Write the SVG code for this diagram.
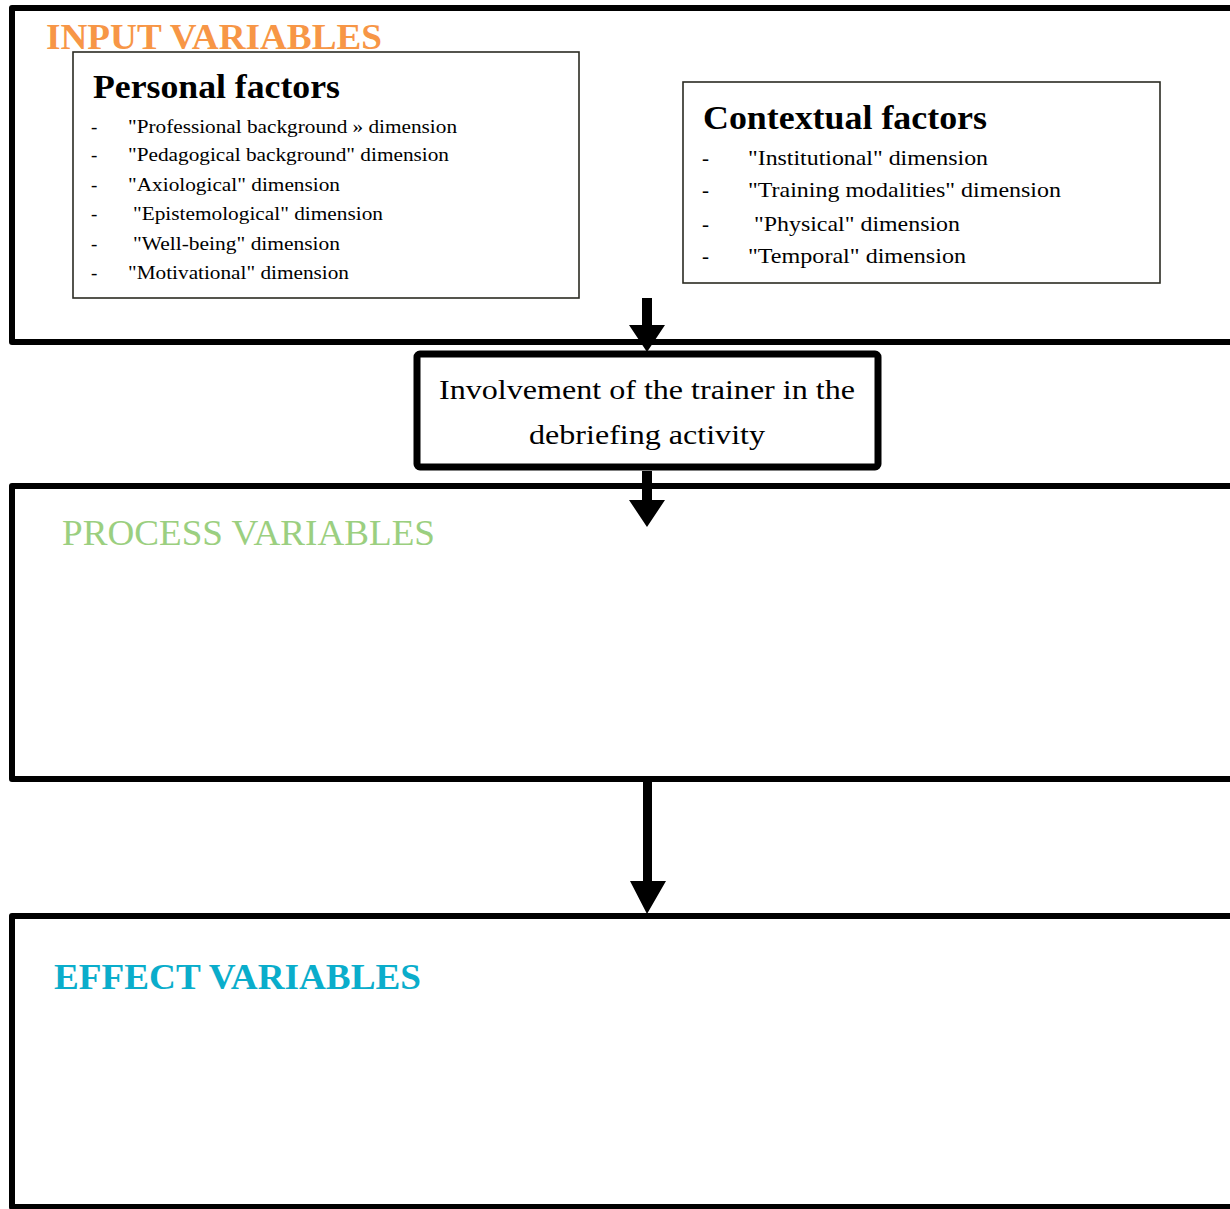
<svg xmlns="http://www.w3.org/2000/svg" width="1230" height="1209" viewBox="0 0 1230 1209" font-family="'Liberation Serif', 'Times New Roman', Times, serif">
  <style>
    .frame { fill: #fff; stroke: #000; stroke-width: 6; stroke-linejoin: round; }
    .inner { fill: #fff; stroke: #2b2b22; stroke-width: 1.6; }
    .title { font-weight: bold; font-size: 34px; fill: #000; }
    .item { font-size: 19px; fill: #000; }
    .item2 { font-size: 21px; fill: #000; }
    .head { font-size: 36px; }
  </style>

  <rect width="1230" height="1209" fill="#fff"/>

  <!-- Input variables -->
  <g id="input-variables">
    <rect class="frame" x="12" y="8" width="1240" height="334"/>
    <text class="head" x="46" y="49" fill="#F79646" font-weight="bold" textLength="336" lengthAdjust="spacingAndGlyphs">INPUT VARIABLES</text>
  </g>

  <g id="personal-factors">
    <rect class="inner" x="73" y="52" width="506" height="246"/>
    <text class="title" x="93" y="98" textLength="247" lengthAdjust="spacingAndGlyphs">Personal factors</text>
    <g class="item">
      <text x="91" y="133">-</text><text x="128" y="133" textLength="329" lengthAdjust="spacingAndGlyphs">"Professional background » dimension</text>
      <text x="91" y="161">-</text><text x="128" y="161" textLength="321" lengthAdjust="spacingAndGlyphs">"Pedagogical background" dimension</text>
      <text x="91" y="191">-</text><text x="128" y="191" textLength="212" lengthAdjust="spacingAndGlyphs">"Axiological" dimension</text>
      <text x="91" y="220">-</text><text x="133" y="220" textLength="250" lengthAdjust="spacingAndGlyphs">"Epistemological" dimension</text>
      <text x="91" y="250">-</text><text x="133" y="250" textLength="207" lengthAdjust="spacingAndGlyphs">"Well-being" dimension</text>
      <text x="91" y="279">-</text><text x="128" y="279" textLength="221" lengthAdjust="spacingAndGlyphs">"Motivational" dimension</text>
    </g>
  </g>

  <g id="contextual-factors">
    <rect class="inner" x="683" y="82" width="477" height="201"/>
    <text class="title" x="703" y="129" textLength="284" lengthAdjust="spacingAndGlyphs">Contextual factors</text>
    <g class="item2">
      <text x="702" y="165">-</text><text x="748" y="165" textLength="240" lengthAdjust="spacingAndGlyphs">"Institutional" dimension</text>
      <text x="702" y="197">-</text><text x="748" y="197" textLength="313" lengthAdjust="spacingAndGlyphs">"Training modalities" dimension</text>
      <text x="702" y="231">-</text><text x="754" y="231" textLength="206" lengthAdjust="spacingAndGlyphs">"Physical" dimension</text>
      <text x="702" y="263">-</text><text x="748" y="263" textLength="218" lengthAdjust="spacingAndGlyphs">"Temporal" dimension</text>
    </g>
  </g>

  <!-- Trainer involvement -->
  <g id="involvement">
    <rect x="417" y="354" width="461" height="113" rx="3" fill="#fff" stroke="#000" stroke-width="7"/>
    <g font-size="27" text-anchor="middle" fill="#000">
      <text x="647" y="399" textLength="416" lengthAdjust="spacingAndGlyphs">Involvement of the trainer in the</text>
      <text x="647" y="444" textLength="236" lengthAdjust="spacingAndGlyphs">debriefing activity</text>
    </g>
  </g>

  <!-- Process variables -->
  <g id="process-variables">
    <rect class="frame" x="12" y="486" width="1240" height="293"/>
    <text class="head" x="62" y="545" fill="#9BCF80" textLength="373" lengthAdjust="spacingAndGlyphs">PROCESS VARIABLES</text>
  </g>

  <!-- Effect variables -->
  <g id="effect-variables">
    <rect class="frame" x="12" y="916" width="1240" height="291"/>
    <text class="head" x="54" y="989" fill="#0AADCB" font-weight="bold" textLength="367" lengthAdjust="spacingAndGlyphs">EFFECT VARIABLES</text>
  </g>

  <!-- Connectors: thick block arrows between the stages -->
  <g id="connectors" fill="#000">
    <path d="M642,298 H652 V325 H665 L647,352 L629,325 H642 Z"/>
    <path d="M642,471 H652 V500 H665 L647,527 L629,500 H642 Z"/>
    <path d="M643,781 H652 V881 H666 L647,914 L630,881 H643 Z"/>
  </g>
</svg>
